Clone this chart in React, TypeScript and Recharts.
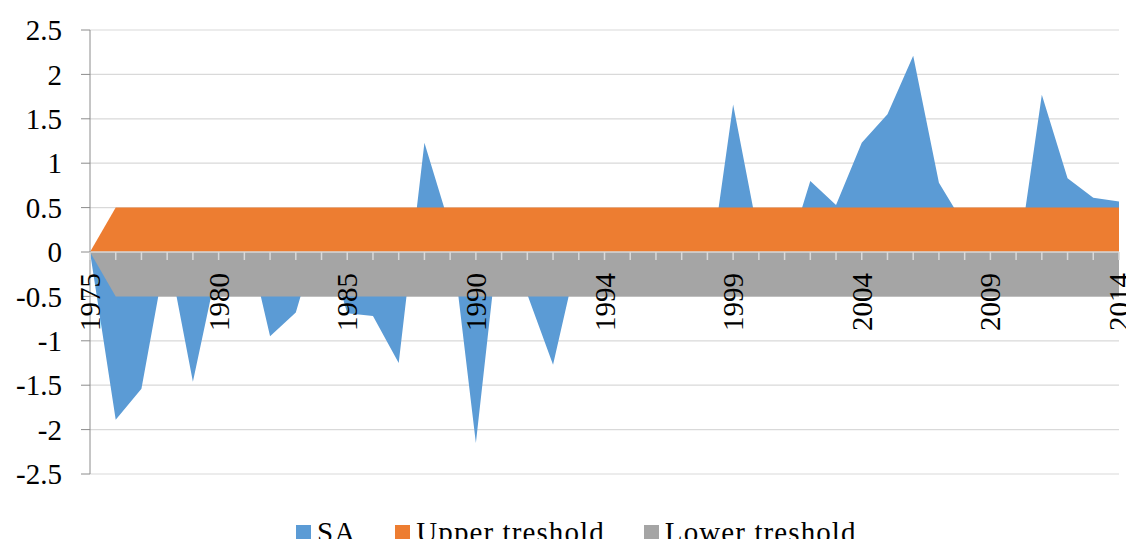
import { AreaChart, Area, XAxis, YAxis, CartesianGrid, Legend, ReferenceLine } from 'recharts'

const years = [
  '1975', '1976', '1977', '1978', '1979', '1980', '1981', '1982', '1983', '1984',
  '1985', '1986', '1987', '1988', '1989', '1990', '1990', '1991', '1992', '1993',
  '1994', '1995', '1996', '1997', '1998', '1999', '2000', '2001', '2002', '2003',
  '2004', '2005', '2006', '2007', '2008', '2009', '2010', '2011', '2012', '2013',
  '2014',
]

const sa = [
  0, -1.89, -1.54, 0.05, -1.46, -0.1, 0.3, -0.95, -0.68, 0.3,
  -0.69, -0.72, -1.25, 1.23, 0.28, -2.15, 0.45, -0.48, -1.27, 0,
  0.2, -0.1, 0.3, 0.1, -0.4, 1.66, 0.16, -0.14, 0.8, 0.53,
  1.23, 1.55, 2.21, 0.78, 0.3, 0.1, -0.24, 1.77, 0.83, 0.61,
  0.57,
]

const upper = [
  0, 0.5, 0.5, 0.5, 0.5, 0.5, 0.5, 0.5, 0.5, 0.5,
  0.5, 0.5, 0.5, 0.5, 0.5, 0.5, 0.5, 0.5, 0.5, 0.5,
  0.5, 0.5, 0.5, 0.5, 0.5, 0.5, 0.5, 0.5, 0.5, 0.5,
  0.5, 0.5, 0.5, 0.5, 0.5, 0.5, 0.5, 0.5, 0.5, 0.5,
  0.5,
]

const lower = [
  0, -0.5, -0.5, -0.5, -0.5, -0.5, -0.5, -0.5, -0.5, -0.5,
  -0.5, -0.5, -0.5, -0.5, -0.5, -0.5, -0.5, -0.5, -0.5, -0.5,
  -0.5, -0.5, -0.5, -0.5, -0.5, -0.5, -0.5, -0.5, -0.5, -0.5,
  -0.5, -0.5, -0.5, -0.5, -0.5, -0.5, -0.5, -0.5, -0.5, -0.5,
  -0.5,
]

const yTicks = [-2.5, -2, -1.5, -1, -0.5, 0, 0.5, 1, 1.5, 2, 2.5]

const seriesNames = ['SA', 'Upper treshold', 'Lower treshold']
const seriesColors = ['#5b9bd5', '#ed7d31', '#a5a5a5']

const data = years.map((year, i) => ({ year, sa: sa[i], upper: upper[i], lower: lower[i] }))

const FONT = 'Liberation Serif, Times New Roman, Times, serif'
const WIDTH = 1126
const HEIGHT = 539
const TOP = 22
const LEGEND_H = 72
const XAXIS_H = 1
// the category axis sits on the zero line, halfway down the plot
const ZERO_Y = TOP + (HEIGHT - LEGEND_H - XAXIS_H - TOP) / 2

const YearTick = (props: any) => {
  const { x, index, payload } = props
  return (
    <g>
      <line x1={x} x2={x} y1={ZERO_Y} y2={ZERO_Y + 8} stroke="#d9d9d9" strokeWidth={1.5} />
      {index % 5 === 0 && (
        <text
          transform={`translate(${x + 10},${ZERO_Y + 21}) rotate(-90)`}
          textAnchor="end"
          style={{ fontFamily: FONT, fontSize: 29 }}
          fill="#000"
        >
          {payload.value}
        </text>
      )}
    </g>
  )
}

const ValueTick = (props: any) => {
  const { x, y, payload } = props
  return (
    <text x={x} y={y} dy="0.355em" textAnchor="end" style={{ fontFamily: FONT, fontSize: 29 }} fill="#000">
      {payload.value}
    </text>
  )
}

const renderLegend = () => (
  <div style={{ position: 'relative', height: LEGEND_H, width: WIDTH }}>
    <div
      style={{
        position: 'absolute',
        top: 43,
        left: 288,
        display: 'flex',
        alignItems: 'center',
        fontFamily: FONT,
        fontSize: 29,
        lineHeight: '29px',
        letterSpacing: 1.1,
        color: '#000',
        whiteSpace: 'nowrap',
      }}
    >
      {seriesNames.map((name, i) => (
        <span key={name} style={{ display: 'flex', alignItems: 'center', marginRight: 39 }}>
          <span style={{ width: 15, height: 15, background: seriesColors[i], marginRight: 6 }} />
          {name}
        </span>
      ))}
    </div>
  </div>
)

export default function App() {
  return (
    <div style={{ height: 531, fontFamily: FONT }}>
      <AreaChart width={WIDTH} height={HEIGHT} data={data} margin={{ top: TOP, right: 15, left: 0, bottom: 0 }}>
        <CartesianGrid vertical={false} stroke="#d9d9d9" strokeWidth={1.2} />
        <Area
          type="linear"
          dataKey="sa"
          name={seriesNames[0]}
          fill={seriesColors[0]}
          fillOpacity={1}
          stroke="none"
          baseValue={0}
          isAnimationActive={false}
        />
        <Area
          type="linear"
          dataKey="upper"
          name={seriesNames[1]}
          fill={seriesColors[1]}
          fillOpacity={1}
          stroke="none"
          baseValue={0}
          isAnimationActive={false}
        />
        <Area
          type="linear"
          dataKey="lower"
          name={seriesNames[2]}
          fill={seriesColors[2]}
          fillOpacity={1}
          stroke="none"
          baseValue={0}
          isAnimationActive={false}
        />
        <ReferenceLine y={0} stroke="#d9d9d9" strokeWidth={1.5} />
        <YAxis
          type="number"
          domain={[-2.5, 2.5]}
          ticks={yTicks}
          width={82}
          axisLine={{ stroke: '#8c8c8c' }}
          tickLine={{ stroke: '#8c8c8c' }}
          tickSize={9}
          tickMargin={19}
          tick={<ValueTick />}
        />
        <XAxis
          dataKey="year"
          height={XAXIS_H}
          interval={0}
          axisLine={false}
          tickLine={false}
          tickSize={0}
          tickMargin={0}
          tick={<YearTick />}
        />
        <Legend verticalAlign="bottom" height={LEGEND_H} content={renderLegend} wrapperStyle={{ left: 0, width: WIDTH }} />
      </AreaChart>
    </div>
  )
}
